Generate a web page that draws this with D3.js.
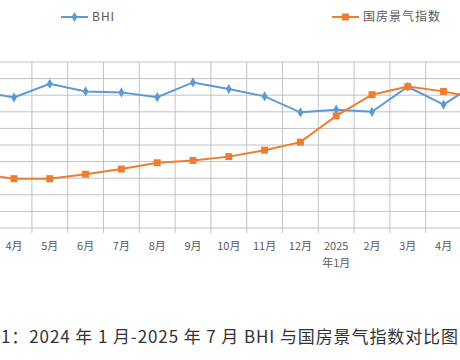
<!DOCTYPE html>
<html><head><meta charset="utf-8">
<script src="https://cdn.jsdelivr.net/npm/d3@7"></script>
<style>
html,body{margin:0;padding:0;background:#fff;overflow:hidden;}
svg{display:block;}
</style></head>
<body>
<svg id="chart" width="460" height="360"></svg>
<script>
// ---- data (scale is unitless, 0-100) ----
const categories = ["2024-03","2024-04","2024-05","2024-06","2024-07","2024-08","2024-09","2024-10","2024-11","2024-12","2025-01","2025-02","2025-03","2025-04","2025-05"];
const tickLabels = ["3月","4月","5月","6月","7月","8月","9月","10月","11月","12月","2025\n年1月","2月","3月","4月","5月"];
const seriesNames = ["BHI","国房景气指数"];
const bhi   = [82.6,78.6,86.9,82.3,81.7,78.8,87.7,83.7,79.3,69.7,71.3,70.0,85.1,74.3,88.4];
const guofang = [32.8,29.7,29.7,32.4,35.5,39.3,40.7,43.0,46.9,51.7,67.5,80.3,85.2,82.3,78.0];
const yTicks = [0,10,20,30,40,50,60,70,80,90,100];
const caption = "1：2024 年 1 月-2025 年 7 月 BHI 与国房景气指数对比图";

const blue = "#5b9bd5", orange = "#ed7d31", grid = "#c2c2c2";
const W = 460;
const svg = d3.select("#chart");

const x = d3.scaleBand().domain(categories).range([-39.7, -39.7 + 35.8*categories.length]).padding(0);
const y = d3.scaleLinear().domain([0,100]).range([228, 62]);
const cx = d => x(d) + x.bandwidth()/2;

// horizontal gridlines
svg.append("g").selectAll("line").data(yTicks).join("line")
  .attr("x1",0).attr("x2",W).attr("y1",d=>y(d)).attr("y2",d=>y(d))
  .attr("stroke",grid).attr("stroke-width",1);
// vertical gridlines at band boundaries + ticks below axis
svg.append("g").selectAll("line").data(categories).join("line")
  .attr("x1",d=>x(d)).attr("x2",d=>x(d)).attr("y1",y(100)).attr("y2",y(0)+5)
  .attr("stroke",grid).attr("stroke-width",1);

// x tick labels (only those inside the visible frame)
const lab = svg.append("g").attr("font-family","'Noto Sans CJK SC', 'Noto Sans', sans-serif")
  .attr("font-size",11).attr("fill","#595959").attr("text-anchor","middle");
categories.forEach((c,i)=>{
  if (cx(c) < 0 || cx(c) > W) return;
  const lines = tickLabels[i].split("\n");
  const t = lab.append("text").attr("x",cx(c)).attr("y",250);
  lines.forEach((l,j)=>t.append("tspan").attr("x",cx(c)).attr("dy",j?17:0).text(l));
});

// lines
const line = vals => d3.line().x((d,i)=>cx(categories[i])).y(d=>y(d))(vals);
svg.append("path").attr("d",line(bhi)).attr("fill","none").attr("stroke",blue).attr("stroke-width",2);
svg.append("path").attr("d",line(guofang)).attr("fill","none").attr("stroke",orange).attr("stroke-width",2);

const diamond = d3.symbol().type(d3.symbolDiamond).size(30);
svg.append("g").selectAll("path").data(bhi).join("path")
  .attr("transform",(d,i)=>`translate(${cx(categories[i])},${y(d)})`)
  .attr("d",diamond).attr("fill",blue);
svg.append("g").selectAll("rect").data(guofang).join("rect")
  .attr("x",(d,i)=>cx(categories[i])-3.5).attr("y",d=>y(d)-3.5)
  .attr("width",7).attr("height",7).attr("fill",orange);

// legend
const lg = [{name:seriesNames[0],color:blue,x:61,type:"d"},{name:seriesNames[1],color:orange,x:332,type:"s"}];
lg.forEach(l=>{
  const g = svg.append("g");
  g.append("line").attr("x1",l.x).attr("x2",l.x+27).attr("y1",17).attr("y2",17).attr("stroke",l.color).attr("stroke-width",2);
  if(l.type==="d") g.append("path").attr("transform",`translate(${l.x+13.5},17)`).attr("d",diamond).attr("fill",l.color);
  else g.append("rect").attr("x",l.x+10).attr("y",13.5).attr("width",7).attr("height",7).attr("fill",l.color);
  g.append("text").attr("x",l.x+31).attr("y",17).attr("dy","0.35em")
    .attr("font-family","'Noto Sans CJK SC', 'Noto Sans', sans-serif").attr("font-size",12)
    .attr("letter-spacing",1).attr("fill","#595959").text(l.name);
});

// caption
svg.append("text").attr("x",1).attr("y",343)
  .attr("font-family","'Noto Sans CJK SC', sans-serif").attr("font-size",17)
  .attr("textLength",457).attr("lengthAdjust","spacing")
  .attr("fill","#333").text(caption);
</script>
</body></html>
